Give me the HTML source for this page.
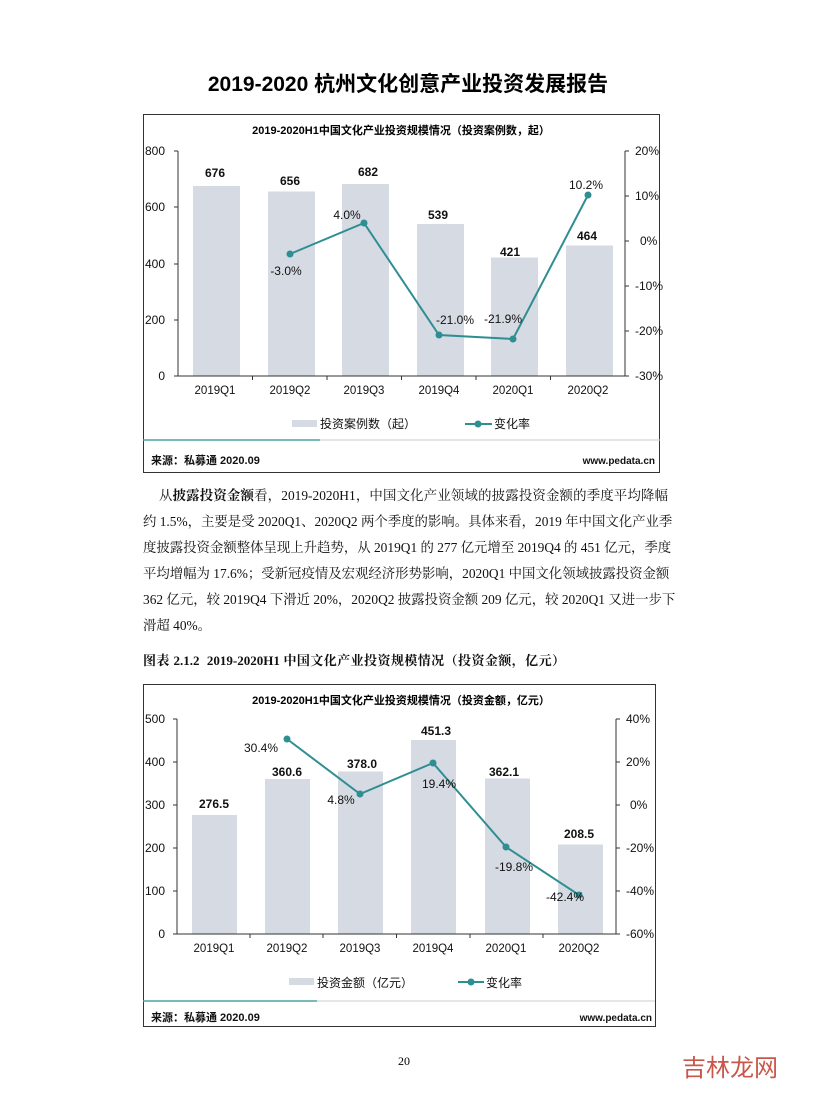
<!DOCTYPE html>
<html><head><meta charset="utf-8"><style>
body{margin:0;background:#fff;width:816px;height:1099px;position:relative;overflow:hidden;font-family:"Liberation Serif","Noto Serif CJK SC",serif;}
.t{position:absolute;white-space:nowrap;}
svg text{font-family:"Liberation Sans","Noto Sans CJK SC",sans-serif;}
.p{position:absolute;left:143px;width:525px;font-size:13.4px;color:#111;white-space:nowrap;text-align:justify;text-align-last:justify;}
</style></head><body>
<div class="t" style="left:0;width:816px;text-align:center;top:68px;font:bold 21px 'Liberation Sans','Noto Sans CJK SC',sans-serif;color:#000">2019-2020 杭州文化创意产业投资发展报告</div>

<svg style="position:absolute;left:0;top:0" width="816" height="1099">
<!-- Chart 1 -->
<rect x="143.5" y="114.5" width="516" height="358" fill="none" stroke="#333" stroke-width="1"/>
<text x="401" y="134" font-size="11" font-weight="bold" text-anchor="middle">2019-2020H1中国文化产业投资规模情况（投资案例数，起）</text>
<g fill="#d5dae3">
<rect x="193" y="186" width="47" height="190"/><rect x="268" y="191.5" width="47" height="184.5"/><rect x="342" y="184" width="47" height="192"/><rect x="417" y="224" width="47" height="152"/><rect x="491" y="257.5" width="47" height="118.5"/><rect x="566" y="245.5" width="47" height="130.5"/>
</g>
<g stroke="#333" stroke-width="1" fill="none">
<line x1="178" y1="151" x2="178" y2="376"/><line x1="625" y1="151" x2="625" y2="376"/><line x1="178" y1="376" x2="625" y2="376"/>
<path d="M174 151h4M174 207h4M174 264h4M174 320h4M174 376h4M625 151h4M625 196h4M625 241h4M625 286h4M625 331h4M625 376h4M252.5 376v4M327 376v4M401.5 376v4M476 376v4M550.5 376v4"/>
</g>
<g font-size="12" fill="#111" text-anchor="end"><text x="165" y="155">800</text><text x="165" y="211">600</text><text x="165" y="268">400</text><text x="165" y="324">200</text><text x="165" y="380">0</text></g>
<g font-size="12" fill="#111"><text x="635" y="155">20%</text><text x="635" y="200">10%</text><text x="640" y="245">0%</text><text x="635" y="290">-10%</text><text x="635" y="335">-20%</text><text x="635" y="380">-30%</text></g>
<g font-size="11.5" fill="#111" text-anchor="middle"><text x="215" y="394">2019Q1</text><text x="290" y="394">2019Q2</text><text x="364" y="394">2019Q3</text><text x="439" y="394">2019Q4</text><text x="513" y="394">2020Q1</text><text x="588" y="394">2020Q2</text></g>
<g font-size="12" font-weight="bold" fill="#111" text-anchor="middle"><text x="215" y="177">676</text><text x="290" y="185">656</text><text x="368" y="176">682</text><text x="438" y="219">539</text><text x="510" y="256">421</text><text x="587" y="240">464</text></g>
<polyline points="290,254 364,223 439,335 513,339 588,195" fill="none" stroke="#2e8e92" stroke-width="2"/>
<g fill="#2e8e92"><circle cx="290" cy="254" r="3.5"/><circle cx="364" cy="223" r="3.5"/><circle cx="439" cy="335" r="3.5"/><circle cx="513" cy="339" r="3.5"/><circle cx="588" cy="195" r="3.5"/></g>
<g font-size="12" fill="#111" text-anchor="middle"><text x="286" y="275">-3.0%</text><text x="347" y="219">4.0%</text><text x="455" y="324">-21.0%</text><text x="503" y="323">-21.9%</text><text x="586" y="189">10.2%</text></g>
<rect x="292" y="420" width="25" height="7" fill="#d5dae3"/><text x="320" y="428" font-size="12" fill="#111">投资案例数（起）</text>
<line x1="465" y1="424" x2="492" y2="424" stroke="#2e8e92" stroke-width="2"/><circle cx="478" cy="424" r="3.5" fill="#2e8e92"/><text x="494" y="428" font-size="12" fill="#111">变化率</text>
<line x1="143" y1="440" x2="320" y2="440" stroke="#4aa3a6" stroke-width="1.5"/><line x1="320" y1="440" x2="660" y2="440" stroke="#ccc" stroke-width="1"/>
<text x="151" y="464" font-size="11" font-weight="bold" fill="#111">来源：私募通 2020.09</text>
<text x="655" y="464" font-size="10" font-weight="bold" fill="#111" text-anchor="end" font-family="Liberation Mono">www.pedata.cn</text>

<!-- Chart 2 -->
<rect x="143.5" y="684.5" width="512" height="342" fill="none" stroke="#333" stroke-width="1"/>
<text x="401" y="704" font-size="11" font-weight="bold" text-anchor="middle">2019-2020H1中国文化产业投资规模情况（投资金额，亿元）</text>
<g fill="#d5dae3">
<rect x="192" y="815" width="45" height="119"/><rect x="265" y="779" width="45" height="155"/><rect x="338" y="771.5" width="45" height="162.5"/><rect x="411" y="740" width="45" height="194"/><rect x="485" y="778.5" width="45" height="155.5"/><rect x="558" y="844.5" width="45" height="89.5"/>
</g>
<g stroke="#333" stroke-width="1" fill="none">
<line x1="177" y1="719" x2="177" y2="934"/><line x1="616" y1="719" x2="616" y2="934"/><line x1="177" y1="934" x2="616" y2="934"/>
<path d="M173 719h4M173 762h4M173 805h4M173 848h4M173 891h4M173 934h4M616 719h4M616 762h4M616 805h4M616 848h4M616 891h4M616 934h4M250 934v4M323 934v4M396.5 934v4M470 934v4M543 934v4"/>
</g>
<g font-size="12" fill="#111" text-anchor="end"><text x="165" y="723">500</text><text x="165" y="766">400</text><text x="165" y="809">300</text><text x="165" y="852">200</text><text x="165" y="895">100</text><text x="165" y="938">0</text></g>
<g font-size="12" fill="#111"><text x="626" y="723">40%</text><text x="626" y="766">20%</text><text x="630" y="809">0%</text><text x="626" y="852">-20%</text><text x="626" y="895">-40%</text><text x="626" y="938">-60%</text></g>
<g font-size="11.5" fill="#111" text-anchor="middle"><text x="214" y="952">2019Q1</text><text x="287" y="952">2019Q2</text><text x="360" y="952">2019Q3</text><text x="433" y="952">2019Q4</text><text x="506" y="952">2020Q1</text><text x="579" y="952">2020Q2</text></g>
<g font-size="12" font-weight="bold" fill="#111" text-anchor="middle"><text x="214" y="808">276.5</text><text x="287" y="776">360.6</text><text x="362" y="768">378.0</text><text x="436" y="735">451.3</text><text x="504" y="776">362.1</text><text x="579" y="838">208.5</text></g>
<polyline points="287,739 360,794 433,763 506,847 579,895" fill="none" stroke="#2e8e92" stroke-width="2"/>
<g fill="#2e8e92"><circle cx="287" cy="739" r="3.5"/><circle cx="360" cy="794" r="3.5"/><circle cx="433" cy="763" r="3.5"/><circle cx="506" cy="847" r="3.5"/><circle cx="579" cy="895" r="3.5"/></g>
<g font-size="12" fill="#111" text-anchor="middle"><text x="261" y="752">30.4%</text><text x="341" y="804">4.8%</text><text x="439" y="788">19.4%</text><text x="514" y="871">-19.8%</text><text x="565" y="901">-42.4%</text></g>
<rect x="289" y="978" width="25" height="7" fill="#d5dae3"/><text x="317" y="987" font-size="12" fill="#111">投资金额（亿元）</text>
<line x1="458" y1="982" x2="484" y2="982" stroke="#2e8e92" stroke-width="2"/><circle cx="471" cy="982" r="3.5" fill="#2e8e92"/><text x="486" y="987" font-size="12" fill="#111">变化率</text>
<line x1="143" y1="1001" x2="317" y2="1001" stroke="#4aa3a6" stroke-width="1.5"/><line x1="317" y1="1001" x2="655" y2="1001" stroke="#ccc" stroke-width="1"/>
<text x="151" y="1021" font-size="11" font-weight="bold" fill="#111">来源：私募通 2020.09</text>
<text x="652" y="1021" font-size="10" font-weight="bold" fill="#111" text-anchor="end" font-family="Liberation Mono">www.pedata.cn</text>
</svg>

<div class="p" style="top:485px;left:159px;width:509px">从<b>披露投资金额</b>看，2019-2020H1，中国文化产业领域的披露投资金额的季度平均降幅</div>
<div class="p" style="top:511px">约 1.5%，主要是受 2020Q1、2020Q2 两个季度的影响。具体来看，2019 年中国文化产业季</div>
<div class="p" style="top:537px">度披露投资金额整体呈现上升趋势，从 2019Q1 的 277 亿元增至 2019Q4 的 451 亿元，季度</div>
<div class="p" style="top:563px">平均增幅为 17.6%；受新冠疫情及宏观经济形势影响，2020Q1 中国文化领域披露投资金额</div>
<div class="p" style="top:589px">362 亿元，较 2019Q4 下滑近 20%，2020Q2 披露投资金额 209 亿元，较 2020Q1 又进一步下</div>
<div class="p" style="top:615px;text-align-last:left">滑超 40%。</div>
<div class="p" style="top:650px;font-size:13px;font-weight:bold;width:422px">图表 2.1.2&nbsp;&nbsp;2019-2020H1 中国文化产业投资规模情况（投资金额，亿元）</div>
<div class="t" style="left:398px;top:1054px;font-size:12px">20</div>
<div class="t" style="left:682px;top:1048px;font:24px 'Noto Sans CJK SC',sans-serif;color:#c0392b;opacity:.85">吉林龙网</div>
</body></html>
